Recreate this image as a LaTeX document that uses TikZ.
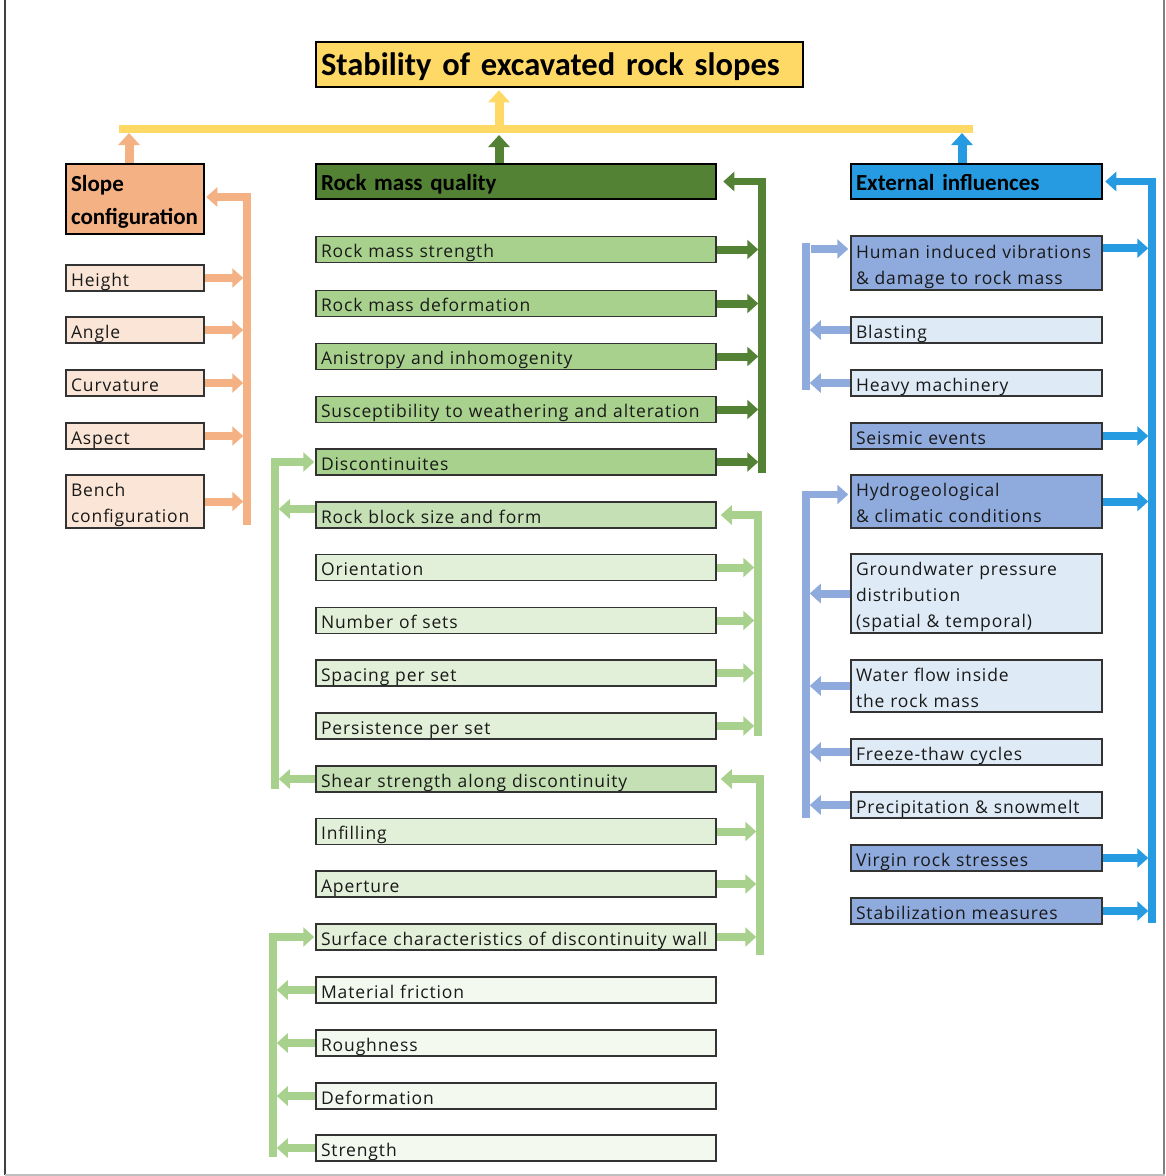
\documentclass[tikz,border=0pt]{standalone}
\usepackage{fontspec}
\setmainfont{Open Sans}[LetterSpace=5]
\newfontfamily\hdrfam{Carlito}
\usetikzlibrary{arrows.meta}
\definecolor{gold}{HTML}{FFD966}
\definecolor{org}{HTML}{F4B183}
\definecolor{orgl}{HTML}{FBE5D6}
\definecolor{dgr}{HTML}{548235}
\definecolor{mgr}{HTML}{A9D18E}
\definecolor{lgr}{HTML}{C5E0B4}
\definecolor{vlgr}{HTML}{E2F0D9}
\definecolor{xlgr}{HTML}{F3F9EF}
\definecolor{blu}{HTML}{269BE1}
\definecolor{mblu}{HTML}{8FAADC}
\definecolor{lblu}{HTML}{DEEBF7}
\newcommand\itemfont{\fontsize{17.5}{26}\selectfont\def\bxstrut{\rule[-5pt]{0pt}{26pt}}}
\newcommand\hdfont{\hdrfam\bfseries\fontsize{23}{33}\selectfont\def\bxstrut{\rule[-8pt]{0pt}{33pt}}}
\newcommand\ttfont{\hdrfam\bfseries\fontsize{32.5}{42}\selectfont\def\bxstrut{\rule[-10pt]{0pt}{42pt}}}
\newcommand\bx[7]{%
  \pgfmathsetmacro\bxtw{#4-10}%
  \node[#6, minimum width=#4pt, minimum height=#5pt, text width=\bxtw pt] (#1) at (#2,#3) {\bxstrut #7\bxstrut};}
\tikzset{
  item/.style={draw=black!80, line width=1.5pt, inner xsep=5pt, inner ysep=0pt, align=left, font=\itemfont, text=black!90},
  head/.style={draw=black, line width=2.5pt, inner xsep=5pt, inner ysep=0pt, align=left, font=\hdfont},
  shaft/.style={line width=8pt},
  bar/.style={line width=7.5pt, line join=miter},
  arr/.style={-{Triangle[length=11pt,width=19pt]}},
  uparr/.style={line width=9pt, -{Triangle[length=12pt,width=21pt]}},
  toline/.style={shorten >=3.75pt},
}
\begin{document}
\begin{tikzpicture}[x=1pt,y=-1pt]
\useasboundingbox (0,0) rectangle (1166,1176);
% frame
\draw[black!75, line width=2pt] (5,0) -- (5,1175);
\draw[black!50, line width=1.5pt] (1164,0) -- (1164,1175);
\draw[black!25, line width=1.5pt] (5,1175) -- (1165,1175);

% title and headers
\bx{tt}{559.5}{64.5}{487}{45}{head, fill=gold, font=\ttfont}{\mbox{Stability of excavated rock slopes}}
\bx{sc}{135}{199}{138}{70}{head, fill=org}{Slope\\\mbox{configuration}}
\bx{rmq}{516}{181.5}{400}{35}{head, fill=dgr}{Rock mass quality}
\bx{ei}{976.5}{181.5}{251}{35}{head, fill=blu}{External influences}

% left items
\bx{h1}{135}{278}{138}{26}{item, fill=orgl}{Height}
\bx{h2}{135}{330}{138}{26}{item, fill=orgl}{Angle}
\bx{h3}{135}{383}{138}{26}{item, fill=orgl}{Curvature}
\bx{h4}{135}{436}{138}{26}{item, fill=orgl}{Aspect}
\bx{h5}{135}{501.5}{138}{53}{item, fill=orgl}{Bench\\\mbox{configuration}}

% middle items
\bx{m1}{516}{249.5}{400}{26}{item, fill=mgr}{Rock mass strength}
\bx{m2}{516}{303.5}{400}{26}{item, fill=mgr}{Rock mass deformation}
\bx{m3}{516}{356.5}{400}{26}{item, fill=mgr}{Anistropy and inhomogenity}
\bx{m4}{516}{409.5}{400}{26}{item, fill=mgr}{\mbox{Susceptibility to weathering and alteration}}
\bx{m5}{516}{462}{400}{26}{item, fill=mgr}{Discontinuites}
\bx{m6}{516}{515}{400}{26}{item, fill=lgr}{Rock block size and form}
\bx{m7}{516}{567.5}{400}{26}{item, fill=vlgr}{Orientation}
\bx{m8}{516}{620.5}{400}{26}{item, fill=vlgr}{Number of sets}
\bx{m9}{516}{673}{400}{26}{item, fill=vlgr}{Spacing per set}
\bx{m10}{516}{726}{400}{26}{item, fill=vlgr}{Persistence per set}
\bx{m11}{516}{779}{400}{26}{item, fill=lgr}{Shear strength along discontinuity}
\bx{m12}{516}{831.5}{400}{26}{item, fill=vlgr}{Infilling}
\bx{m13}{516}{884}{400}{26}{item, fill=vlgr}{Aperture}
\bx{m14}{516}{937}{400}{26}{item, fill=vlgr}{\mbox{Surface characteristics of discontinuity wall}}
\bx{m15}{516}{990}{400}{26}{item, fill=xlgr}{Material friction}
\bx{m16}{516}{1043}{400}{26}{item, fill=xlgr}{Roughness}
\bx{m17}{516}{1096}{400}{26}{item, fill=xlgr}{Deformation}
\bx{m18}{516}{1148}{400}{26}{item, fill=xlgr}{Strength}

% right items
\bx{r1}{976.5}{263}{251}{54}{item, fill=mblu}{\mbox{Human induced vibrations}\\\mbox{\& damage to rock mass}}
\bx{r2}{976.5}{330}{251}{26}{item, fill=lblu}{Blasting}
\bx{r3}{976.5}{383}{251}{26}{item, fill=lblu}{Heavy machinery}
\bx{r4}{976.5}{436}{251}{26}{item, fill=mblu}{Seismic events}
\bx{r5}{976.5}{501.5}{251}{53}{item, fill=mblu}{Hydrogeological\\\mbox{\& climatic conditions}}
\bx{r6}{976.5}{593.5}{251}{79}{item, fill=lblu}{\mbox{Groundwater pressure}\\distribution\\\mbox{(spatial \& temporal)}}
\bx{r7}{976.5}{686}{251}{52}{item, fill=lblu}{Water flow inside\\the rock mass}
\bx{r8}{976.5}{752}{251}{26}{item, fill=lblu}{Freeze-thaw cycles}
\bx{r9}{976.5}{805}{251}{26}{item, fill=lblu}{\mbox{Precipitation \& snowmelt}}
\bx{r10}{976.5}{858}{251}{26}{item, fill=mblu}{Virgin rock stresses}
\bx{r11}{976.5}{911}{251}{26}{item, fill=mblu}{\mbox{Stabilization measures}}

% top bar and upward arrows
\coordinate (ybL) at (119,129);
\coordinate (ybR) at (973,129);
\coordinate (ymid) at (499,129);
\coordinate (bup) at (962,129);
\coordinate (oup) at (129,129);
\draw[gold, line width=8pt] (ybL) -- (ybR);
\draw[gold, uparr, shorten >=2pt] (ymid) -- (ymid |- tt.south);
\draw[org, uparr, shorten >=4pt] (sc.north -| oup) -- (oup);
\draw[dgr, uparr, shorten >=6pt] (rmq.north -| ymid) -- (ymid);
\draw[blu, uparr, shorten >=4pt] (ei.north -| bup) -- (bup);

% orange bracket
\coordinate (obot) at (247,525);
\draw[org, bar, arr, shorten >=1pt] (obot) |- ([yshift=2pt]sc.east);
\foreach \n in {h1,h2,h3,h4,h5}
  \draw[org, shaft, arr, toline] (\n.east) -- (\n.east -| obot);

% dark green bracket
\coordinate (dgbot) at (762,473);
\draw[dgr, bar, arr, shorten >=6pt] (dgbot) |- (rmq.east);
\foreach \n in {m1,m2,m3,m4,m5}
  \draw[dgr, shaft, arr, toline] (\n.east) -- (\n.east -| dgbot);

% rock block bracket (right)
\coordinate (ga) at (758,736);
\draw[mgr, bar, arr, shorten >=4pt] (ga) |- (m6.east);
\foreach \n in {m7,m8,m9,m10}
  \draw[mgr, shaft, arr, toline] (\n.east) -- (\n.east -| ga);

% discontinuities bracket (left)
\coordinate (gb) at (275,789);
\draw[mgr, bar, arr, shorten >=1pt] (gb) |- (m5.west);
\draw[mgr, shaft, arr, toline] ([yshift=6pt]m6.west) -- ([yshift=6pt]m6.west -| gb);
\draw[mgr, shaft, arr, toline] (m11.west) -- (m11.west -| gb);

% shear strength bracket (right)
\coordinate (gc) at (760,955);
\draw[mgr, bar, arr, shorten >=4pt] (gc) |- (m11.east);
\foreach \n in {m12,m13,m14}
  \draw[mgr, shaft, arr, toline] (\n.east) -- (\n.east -| gc);

% surface bracket (left)
\coordinate (gd) at (273,1157);
\draw[mgr, bar, arr, shorten >=1pt] (gd) |- (m14.west);
\foreach \n in {m15,m16,m17,m18}
  \draw[mgr, shaft, arr, toline] (\n.west) -- (\n.west -| gd);

% blue bracket
\coordinate (bbot) at (1152,923);
\draw[blu, bar, arr, shorten >=2pt] (bbot) |- (ei.east);
\draw[blu, shaft, arr, toline] ([yshift=-13pt]r1.north east) -- ([yshift=-13pt]r1.north east -| bbot);
\foreach \n in {r4,r5,r10,r11}
  \draw[blu, shaft, arr, toline] (\n.east) -- (\n.east -| bbot);

% light blue bracket 1
\coordinate (eTop) at (806,243);
\coordinate (eBot) at (806,390);
\coordinate (eArm) at (811,249);
\draw[mblu, bar] (eTop) -- (eBot);
\draw[mblu, shaft, arr, shorten >=2pt] (eArm) -- (eArm -| r1.west);
\foreach \n in {r2,r3}
  \draw[mblu, shaft, arr, toline] (\n.west) -- (\n.west -| eTop);

% light blue bracket 2
\coordinate (fbot) at (806,818);
\draw[mblu, bar, arr, shorten >=2pt] (fbot) |- ([yshift=7pt]r5.west);
\foreach \n in {r6,r7,r8,r9}
  \draw[mblu, shaft, arr, toline] (\n.west) -- (\n.west -| fbot);
\end{tikzpicture}
\end{document}
